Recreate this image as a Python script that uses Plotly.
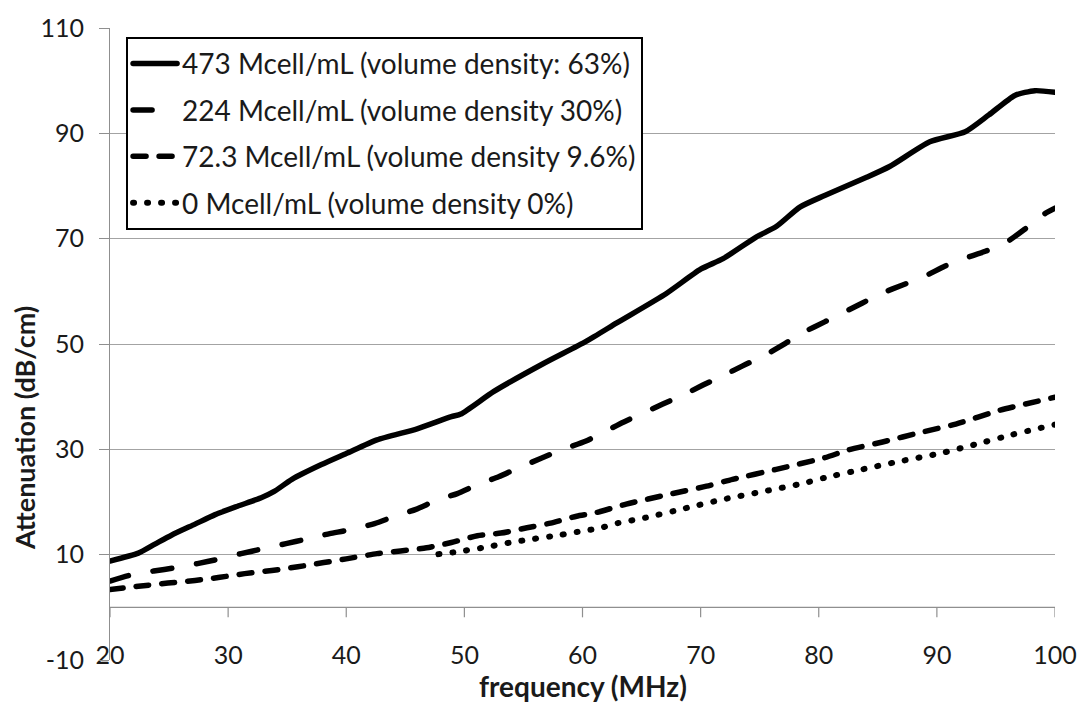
import plotly.graph_objects as go

# Attenuation vs frequency for four cell concentrations
freq_473 = [20, 22.4, 23.8, 25.2, 27.2, 28.9, 30.8, 32.8, 33.9, 35.4, 37.9, 40, 42.6, 46, 48.9, 49.7,
            52.5, 56.7, 60.3, 62.9, 67.1, 70, 71.9, 74.7, 76.4, 78.4, 80.5, 84, 86, 89.4, 92.4, 94.4,
            96.6, 98.3, 100]
att_473 = [8.8, 10.3, 12.0, 13.7, 15.8, 17.6, 19.2, 20.8, 22.0, 24.3, 27.1, 29.2, 31.8, 33.9, 36.2, 36.7,
           41.0, 46.3, 50.5, 54.0, 59.6, 64.2, 66.2, 70.3, 72.3, 76.0, 78.2, 81.6, 83.7, 88.4, 90.3, 93.5,
           97.2, 98.1, 97.8]

freq_224 = [20, 21.7, 23.7, 25.5, 27.4, 29.3, 31.1, 32.9, 34.9, 36.7, 38.6, 40, 42.4, 44.1, 45.9, 47.7,
            49.4, 51.1, 52.9, 54.5, 56.5, 58.2, 60.3, 63.5, 66.8, 68.5, 70.2, 71.9, 73.6, 75.4, 77,
            78.6, 80.5, 83.7, 85.4, 87.1, 89, 90.7, 92.4, 94.1, 96, 97.5, 99.1, 100]
att_224 = [5.0, 6.1, 6.9, 7.5, 8.3, 9.2, 10.2, 11.1, 12.1, 13.0, 14.0, 14.6, 15.9, 17.3, 18.6, 20.4,
           21.6, 23.3, 24.8, 26.4, 28.3, 29.9, 31.6, 35.2, 38.6, 40.3, 42.2, 44.0, 45.9, 47.8, 49.9,
           52.1, 54.2, 57.8, 59.7, 61.2, 62.9, 64.8, 66.3, 67.6, 69.5, 71.9, 74.7, 75.8]

freq_72 = [20, 22.4, 24.9, 27.2, 29.3, 31.4, 33.7, 35.9, 38.1, 40, 42.6, 44.6, 46.8, 48.9, 51.1, 53.1,
           55.3, 57.3, 59.5, 61, 63.7, 67.4, 70.5, 72.7, 76.4, 80.5, 82.5, 85.4, 88.8, 91.6, 95.3, 100]
att_72 = [3.4, 4.0, 4.6, 5.1, 5.7, 6.4, 7.0, 7.7, 8.5, 9.2, 10.2, 10.7, 11.3, 12.3, 13.6, 14.1,
          15.1, 16.0, 17.3, 17.9, 19.6, 21.5, 23.0, 24.3, 26.2, 28.4, 29.9, 31.4, 33.3, 34.8, 37.4, 39.9]

freq_0 = [47.8, 49.3, 51.5, 53.9, 55.6, 58, 60, 61.4, 63, 65.3, 68.5, 71.9, 75.3, 78.6, 80.5, 83.7,
          86.8, 90.2, 93.2, 96.4, 100]
att_0 = [10.1, 10.5, 11.3, 12.3, 12.9, 13.7, 14.5, 15.0, 16.0, 17.0, 18.7, 20.5, 22.0, 23.5, 24.6, 26.2,
         27.7, 29.2, 30.9, 32.8, 34.7]

names = [
    "473 Mcell/mL (volume density: 63%)",
    "224 Mcell/mL (volume density 30%)",
    "72.3 Mcell/mL (volume density 9.6%)",
    "0 Mcell/mL (volume density 0%)",
]

x_ticks = [20, 30, 40, 50, 60, 70, 80, 90, 100]
y_ticks = [-10, 10, 30, 50, 70, 90, 110]
X_CROSS = 0   # the frequency axis crosses the attenuation axis here

FONT = "Lato, 'Open Sans', sans-serif"
TEXT = "#1a1a1a"
GRID = "#a3a3a3"
AXIS = "#8f8f8f"

# (x, y, dash pattern, width)
series = [
    (freq_473, att_473, "solid", 5.5),
    (freq_224, att_224, "19px,25px", 5.5),
    (freq_72, att_72, "13px,13px", 5.5),
    (freq_0, att_0, "1px,13px", 6),
]

fig = go.Figure()
for i, ((fx, fy, dash, w), name) in enumerate(zip(series, names)):
    fig.add_trace(go.Scatter(
        x=fx, y=fy, name=name, mode="lines", legendgroup=f"g{i}",
        line=dict(color="black", width=w, dash=dash, shape="spline", smoothing=0.6),
    ))

# frequency axis line at the crossing value, with its downward tick marks
fig.add_shape(type="line", xref="paper", yref="y", x0=0, x1=1, y0=X_CROSS, y1=X_CROSS,
              line=dict(color=AXIS, width=1.2), layer="above")
for t in x_ticks:
    fig.add_shape(type="line", xref="x", yref="y", x0=t, x1=t,
                  ysizemode="pixel", yanchor=X_CROSS, y0=0, y1=-10,
                  line=dict(color=AXIS, width=1.2), layer="above")

fig.update_layout(
    width=1089, height=714,
    margin=dict(l=110, r=31, t=22, b=54),
    paper_bgcolor="white", plot_bgcolor="white",
    font=dict(family=FONT, color=TEXT, size=26),
    showlegend=True,
    legend=dict(
        x=0.017, y=0.986, xanchor="left", yanchor="top",
        bgcolor="white", bordercolor="black", borderwidth=2,
        font=dict(family=FONT, size=28, color=TEXT),
        itemwidth=44, tracegroupgap=7,
    ),
    # frequency labels along the bottom of the plot
    xaxis=dict(
        range=[20, 100], tickvals=x_ticks, ticktext=[str(t) for t in x_ticks],
        anchor="free", position=0.035, showline=False, showgrid=False,
        zeroline=False, ticks="", tickfont=dict(size=25, color=TEXT),
    ),
    yaxis=dict(
        range=[-10, 110], tickvals=y_ticks, ticktext=[str(t) for t in y_ticks],
        showgrid=True, gridcolor=GRID, gridwidth=1,
        showline=True, linecolor=AXIS, linewidth=1,
        ticks="outside", ticklen=10, tickcolor=AXIS,
        zeroline=False, tickfont=dict(size=25, color=TEXT), ticklabelstandoff=10,
    ),
    annotations=[
        dict(text="<b>frequency (MHz)</b>", xref="paper", yref="paper",
             x=0.5, y=-0.041, xanchor="center", yanchor="middle",
             showarrow=False, font=dict(family=FONT, size=28, color=TEXT)),
        dict(text="<b>Attenuation (dB/cm)</b>", xref="paper", yref="paper",
             x=-0.091, y=0.367, xanchor="center", yanchor="middle", textangle=-90,
             showarrow=False, font=dict(family=FONT, size=27, color=TEXT)),
    ],
)

# round line caps give the dashes and dots their soft ends
post = """
var gd = document.getElementById('{plot_id}');
function roundCaps(){
  gd.querySelectorAll('path.js-line, .legendlines path').forEach(function(p){
    p.style.strokeLinecap = 'round';
  });
}
roundCaps();
gd.on('plotly_afterplot', roundCaps);
"""

fig.write_html("out.html", post_script=post)
